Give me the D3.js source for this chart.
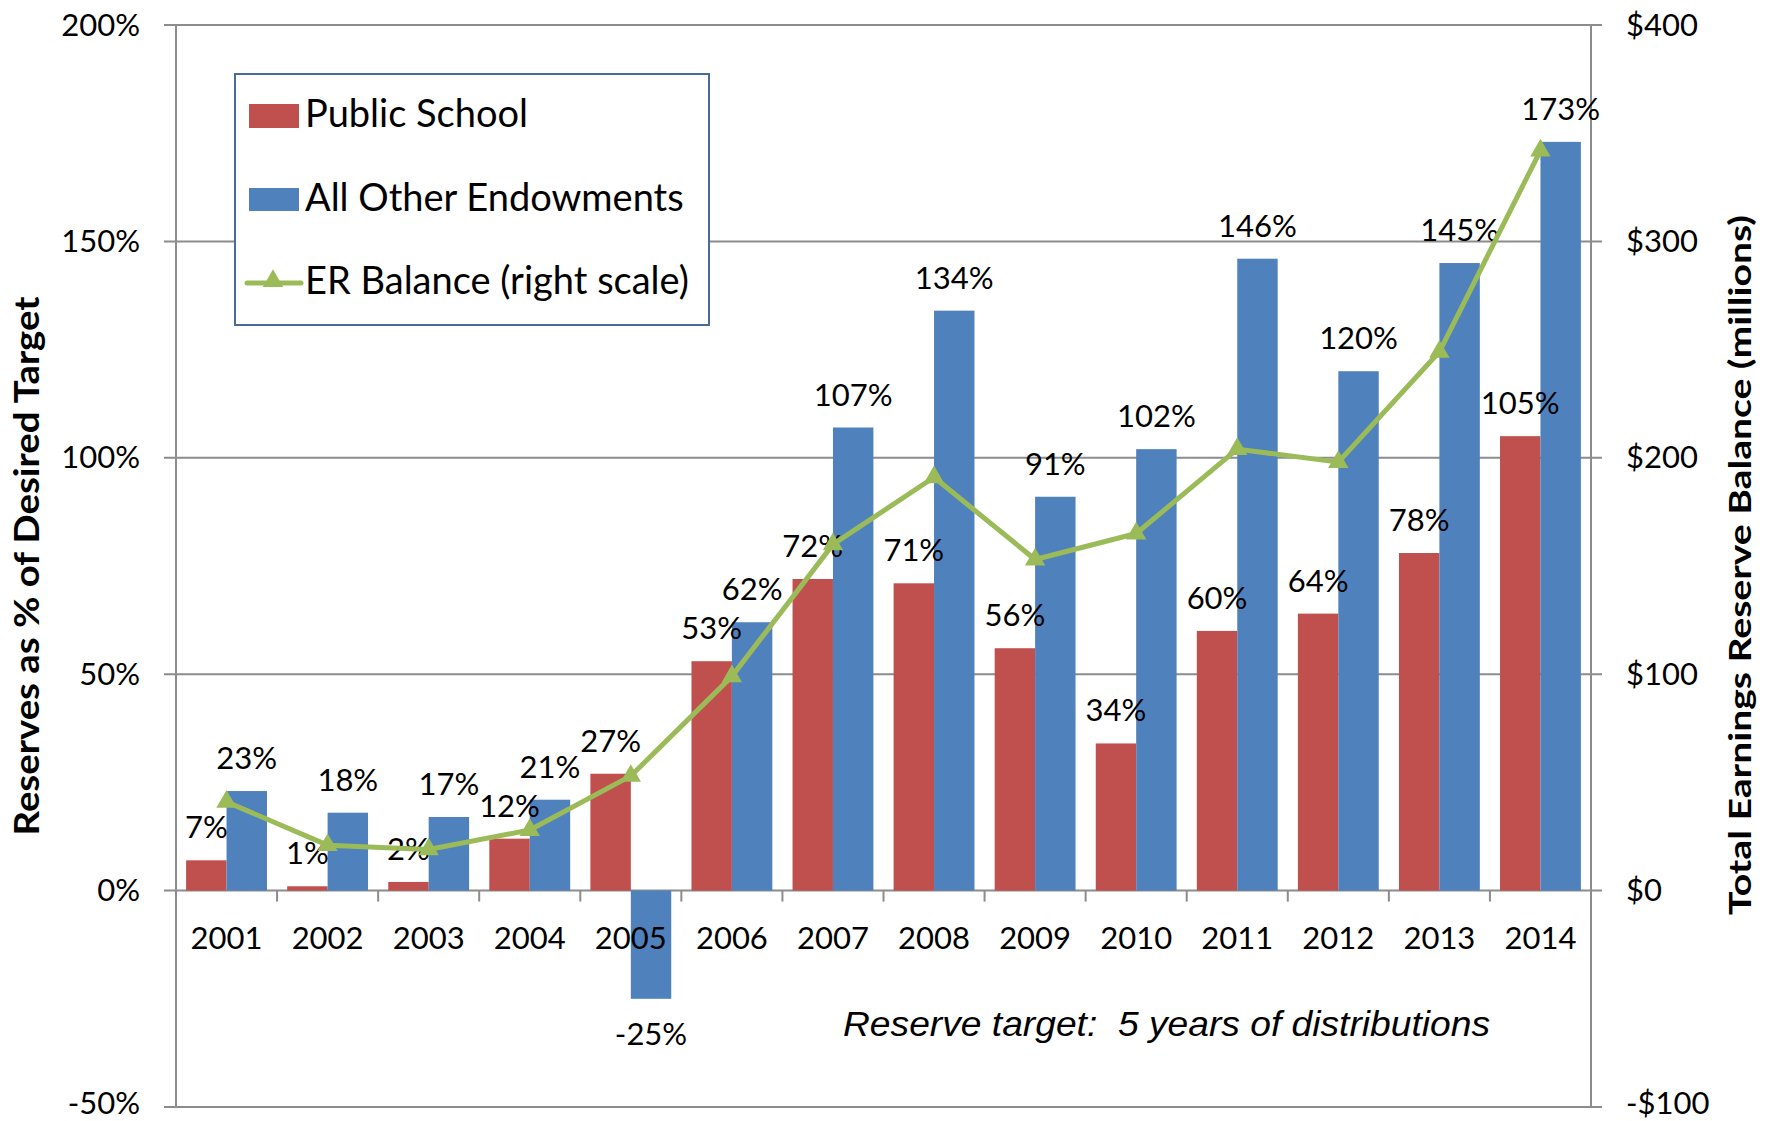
<!DOCTYPE html>
<html>
<head>
<meta charset="utf-8">
<script src="https://cdn.jsdelivr.net/npm/d3@7"></script>
<style>
  html, body { margin: 0; padding: 0; background: #fff; }
  svg { display: block; }
  text { font-family: "Lato", "Carlito", "Noto Sans", sans-serif; fill: #000; }
</style>
</head>
<body>
<svg id="chart" width="1775" height="1121"></svg>
<script>
// Fiscal years on the category axis
const years = ["2001","2002","2003","2004","2005","2006","2007","2008","2009","2010","2011","2012","2013","2014"];
// Reserves as % of desired target
const publicSchool = [7, 1, 2, 12, 27, 53, 72, 71, 56, 34, 60, 64, 78, 105];
const allOther     = [23, 18, 17, 21, -25, 62, 107, 134, 91, 102, 146, 120, 145, 173];
// Total earnings reserve balance, $ millions (right scale)
const erBalance    = [41, 21, 19, 28, 53, 99, 160, 191, 153, 165, 204, 198, 249, 342];

const leftTicks  = [-50, 0, 50, 100, 150, 200];
const rightTicks = [-100, 0, 100, 200, 300, 400];
const seriesNames = ["Public School", "All Other Endowments", "ER Balance (right scale)"];

const colors = { red: "#C0504D", blue: "#4F81BD", green: "#9BBB59", grid: "#8C8C8C" };

const svg = d3.select("#chart");
const plot = { left: 176, right: 1591, top: 25, bottom: 1107 };

const x0 = d3.scaleBand().domain(years).range([plot.left, plot.right]).padding(0);
const x1 = d3.scaleBand().domain(["ps", "ao"]).range([0, x0.bandwidth()]).paddingInner(0).paddingOuter(0.25);
const yL = d3.scaleLinear().domain([-50, 200]).range([plot.bottom, plot.top]);
const yR = d3.scaleLinear().domain([-100, 400]).range([plot.bottom, plot.top]);

// Horizontal gridlines with outward ticks on both sides
svg.append("g").selectAll("line").data(leftTicks).join("line")
  .attr("x1", plot.left - 12).attr("x2", plot.right + 11)
  .attr("y1", d => yL(d)).attr("y2", d => yL(d))
  .attr("stroke", colors.grid).attr("stroke-width", 2);

// Vertical axis lines
svg.append("line").attr("x1", plot.left).attr("x2", plot.left)
  .attr("y1", plot.top).attr("y2", plot.bottom).attr("stroke", colors.grid).attr("stroke-width", 2);
svg.append("line").attr("x1", plot.right).attr("x2", plot.right)
  .attr("y1", plot.top).attr("y2", plot.bottom).attr("stroke", colors.grid).attr("stroke-width", 2);

// Category tick marks below the zero line
const boundaries = years.map(y => x0(y)).concat([plot.right]);
svg.append("g").selectAll("line").data(boundaries).join("line")
  .attr("x1", d => d).attr("x2", d => d)
  .attr("y1", yL(0)).attr("y2", yL(0) + 11)
  .attr("stroke", colors.grid).attr("stroke-width", 2);

// Tick labels sit centred on their gridline; the lowest is kept inside the canvas
const tickDy = (i) => (i === 0 ? "0.22em" : "0.34em");

// Left axis labels
svg.append("g").selectAll("text").data(leftTicks).join("text")
  .attr("x", 140).attr("y", d => yL(d)).attr("dy", (d, i) => tickDy(i))
  .attr("text-anchor", "end").attr("font-size", 31)
  .text(d => d + "%");

// Right axis labels
svg.append("g").selectAll("text").data(rightTicks).join("text")
  .attr("x", 1626).attr("y", d => yR(d)).attr("dy", (d, i) => tickDy(i))
  .attr("text-anchor", "start").attr("font-size", 31)
  .text(d => (d < 0 ? "-$" + Math.abs(d) : "$" + d));

// Bars
const barData = [];
years.forEach((yr, i) => {
  barData.push({ yr, key: "ps", v: publicSchool[i], color: colors.red });
  barData.push({ yr, key: "ao", v: allOther[i], color: colors.blue });
});
svg.append("g").selectAll("rect").data(barData).join("rect")
  .attr("x", d => x0(d.yr) + x1(d.key))
  .attr("width", x1.bandwidth())
  .attr("y", d => yL(Math.max(0, d.v)))
  .attr("height", d => Math.abs(yL(d.v) - yL(0)))
  .attr("fill", d => d.color);

// Category labels, drawn above the bars
svg.append("g").selectAll("text").data(years).join("text")
  .attr("x", d => x0(d) + x0.bandwidth() / 2).attr("y", 949)
  .attr("text-anchor", "middle").attr("font-size", 31)
  .text(d => d);

// Bar value labels
svg.append("g").selectAll("text").data(barData).join("text")
  .attr("x", d => x0(d.yr) + x1(d.key) + x1.bandwidth() / 2)
  .attr("y", d => d.v >= 0 ? yL(d.v) - 22 : yL(d.v) + 46)
  .attr("text-anchor", "middle").attr("font-size", 31)
  .text(d => d.v + "%");

// ER balance line with triangle markers
const cx = yr => x0(yr) + x0.bandwidth() / 2;
const line = d3.line().x((d, i) => cx(years[i])).y(d => yR(d));
svg.append("path").datum(erBalance)
  .attr("d", line).attr("fill", "none")
  .attr("stroke", colors.green).attr("stroke-width", 5)
  .attr("stroke-linejoin", "round");
const tri = d3.symbol().type(d3.symbolTriangle).size(180);
svg.append("g").selectAll("path").data(erBalance).join("path")
  .attr("d", tri)
  .attr("transform", (d, i) => `translate(${cx(years[i])},${yR(d)})`)
  .attr("fill", colors.green);

// Legend
const lg = svg.append("g");
lg.append("rect").attr("x", 235).attr("y", 74).attr("width", 474).attr("height", 251)
  .attr("fill", "#fff").attr("stroke", "#4A6A9C").attr("stroke-width", 2);
lg.append("rect").attr("x", 249).attr("y", 104).attr("width", 50).attr("height", 24).attr("fill", colors.red);
lg.append("rect").attr("x", 249).attr("y", 188).attr("width", 50).attr("height", 23).attr("fill", colors.blue);
lg.append("line").attr("x1", 247).attr("x2", 301).attr("y1", 283).attr("y2", 283)
  .attr("stroke", colors.green).attr("stroke-width", 5).attr("stroke-linecap", "round");
lg.append("path").attr("d", tri).attr("transform", "translate(273,281)").attr("fill", colors.green);
lg.selectAll("text.item").data(seriesNames).join("text")
  .attr("class", "item")
  .attr("x", 305).attr("y", (d, i) => [127, 211, 294][i])
  .attr("font-size", 38)
  .text(d => d);

// Axis titles
svg.append("text")
  .attr("transform", "translate(39,566) rotate(-90)")
  .attr("text-anchor", "middle").attr("font-size", 35).attr("font-weight", 700)
  .attr("textLength", 539).attr("lengthAdjust", "spacingAndGlyphs")
  .text("Reserves as % of Desired Target");
svg.append("text")
  .attr("transform", "translate(1751,565) rotate(-90)")
  .attr("text-anchor", "middle").attr("font-size", 31).attr("font-weight", 700)
  .attr("textLength", 700).attr("lengthAdjust", "spacingAndGlyphs")
  .text("Total Earnings Reserve Balance (millions)");

// Annotation
svg.append("text")
  .attr("x", 843).attr("y", 1036)
  .attr("font-size", 35).attr("font-style", "italic")
  .style("font-family", "'Liberation Sans', Arial, sans-serif")
  .attr("xml:space", "preserve")
  .attr("textLength", 647).attr("lengthAdjust", "spacingAndGlyphs")
  .text("Reserve target:  5 years of distributions");
</script>
</body>
</html>
